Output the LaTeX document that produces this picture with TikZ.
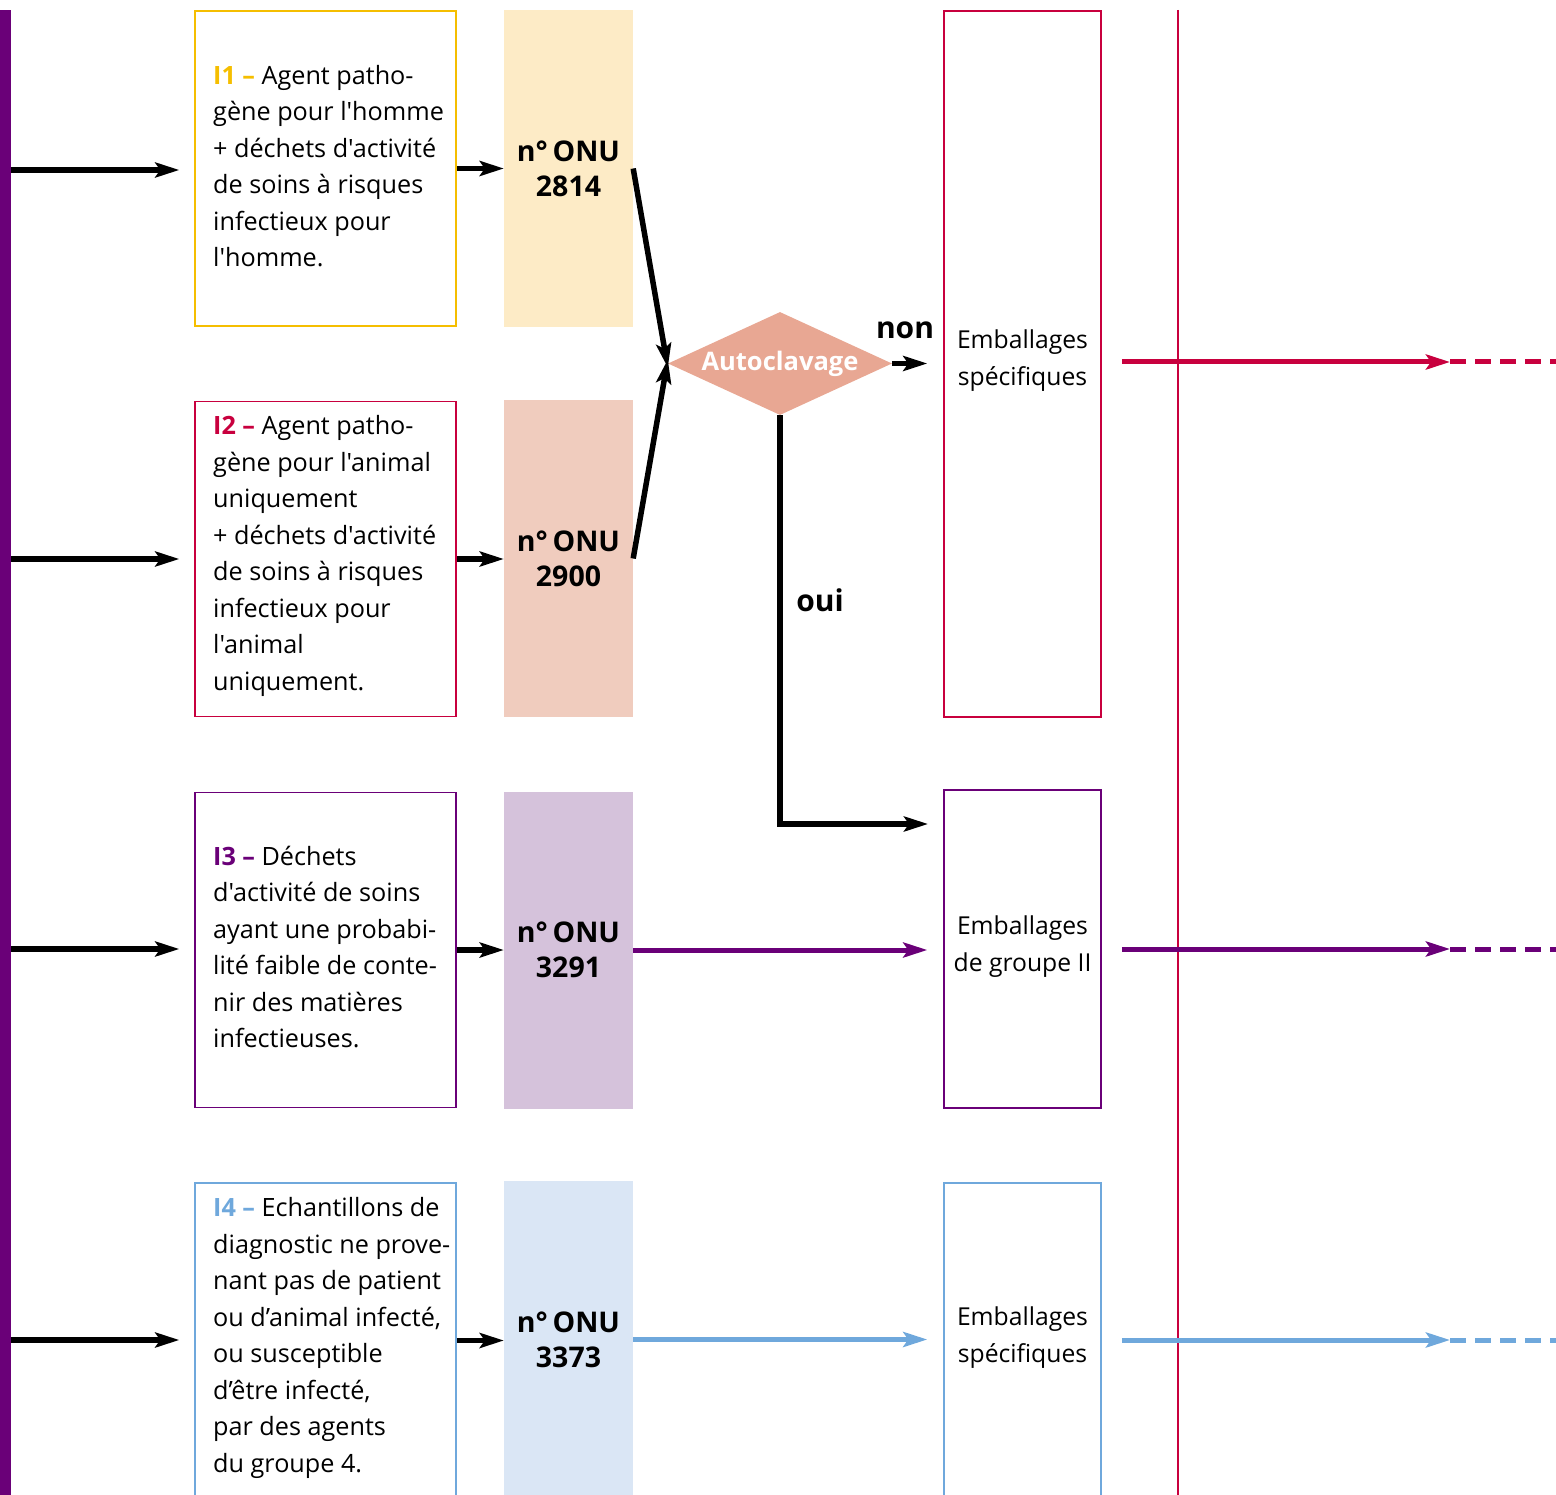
\documentclass[tikz,border=0pt]{standalone}
\usepackage{fontspec}
\setmainfont{Open Sans}[Ligatures=TeXOff]
\usetikzlibrary{arrows.meta,shapes.geometric}
\definecolor{cpurple}{RGB}{106,0,120}
\definecolor{cred}{RGB}{200,0,62}
\definecolor{cyellow}{RGB}{245,190,0}
\definecolor{cblue}{RGB}{111,168,220}
\definecolor{fy}{RGB}{253,235,198}
\definecolor{fp}{RGB}{240,204,190}
\definecolor{fl}{RGB}{213,194,219}
\definecolor{fb}{RGB}{218,230,245}
\definecolor{cdia}{RGB}{232,167,147}
\begin{document}
\begin{tikzpicture}[x=1pt,y=-1pt,
  ibox/.style={rectangle,line width=1.5pt,minimum width=261pt,minimum height=315pt,inner sep=0pt},
  ebox/.style={rectangle,line width=1.5pt,minimum width=157pt,inner sep=0pt},
  itext/.style={align=left,inner sep=0pt,font=\fontsize{25.2}{36.5}\selectfont},
  etext/.style={align=center,inner sep=0pt,font=\fontsize{24.7}{37}\selectfont},
  onu/.style={rectangle,minimum width=129pt,minimum height=317pt,inner sep=0pt,align=center,font=\bfseries\fontsize{28.5}{35}\selectfont},
  arr/.style={line width=5.5pt,-{Stealth[length=24pt,width=15pt,inset=5pt]}},
  carr/.style={line width=5pt,-{Stealth[length=24pt,width=15pt,inset=5pt]}},
  dashend/.style={line width=5pt,dash pattern=on 16pt off 9pt},
  lbl/.style={inner sep=0pt,font=\bfseries\fontsize{30}{36}\selectfont}]
\useasboundingbox (0,0) rectangle (1556,1495);
\clip (0,0) rectangle (1556,1495);

% left bar
\fill[cpurple] (0,10) rectangle (11,1500);
% vertical red line
\draw[cred,line width=2.5pt] (1178,10) -- (1178,1500);

% input boxes
\node[ibox,draw=cyellow] (b1) at (325.5,168.5) {};
\node[ibox,draw=cred] (b2) at (325.5,559) {};
\node[ibox,draw=cpurple] (b3) at (325.5,950) {};
\node[ibox,draw=cblue] (b4) at (325.5,1340.5) {};

\node[itext,anchor=west] (t1) at (213,166) {\textcolor{cyellow}{\textbf{I1 –}} Agent patho-\\gène pour l'homme\\+ déchets d'activité\\de soins à risques\\infectieux pour\\l'homme.};
\node[itext,anchor=west] (t2) at (213,556) {\textcolor{cred}{\textbf{I2 –}} Agent patho-\\gène pour l'animal\\uniquement\\+ déchets d'activité\\de soins à risques\\infectieux pour\\l'animal\\uniquement.};
\node[itext,anchor=west] (t3) at (213,947) {\textcolor{cpurple}{\textbf{I3 –}} Déchets\\d'activité de soins\\ayant une probabi-\\lité faible de conte-\\nir des matières\\infectieuses.};
\node[itext,anchor=west] (t4) at (213,1338) {\textcolor{cblue}{\textbf{I4 –}} Echantillons de\\diagnostic ne prove-\\nant pas de patient\\ou d’animal infecté,\\ou susceptible\\d’être infecté,\\par des agents\\du groupe 4.};

% ONU rects
\node[onu,fill=fy] (o1) at (568.5,168.5) {n°\,ONU\\2814};
\node[onu,fill=fp] (o2) at (568.5,558.5) {n°\,ONU\\2900};
\node[onu,fill=fl] (o3) at (568.5,950) {n°\,ONU\\3291};
\node[onu,fill=fb] (o4) at (568.5,1339.5) {n°\,ONU\\3373};

% diamond
\node[diamond,fill=cdia,aspect=2.2,minimum width=224pt,minimum height=103pt,inner sep=0pt,text=white,font=\bfseries\fontsize{25.5}{30}\selectfont] (dia) at (780,363.5) {Autoclavage};

% output boxes
\node[ebox,draw=cred,minimum height=706pt] (e1) at (1022.5,364) {};
\node[ebox,draw=cpurple,minimum height=318pt] (e2) at (1022.5,949) {};
\node[ebox,draw=cblue,minimum height=315pt] (e3) at (1022.5,1340.5) {};
\node[etext] (et1) at (1022.5,361) {Emballages\\spécifiques};
\node[etext] (et2) at (1022.5,947) {Emballages\\de groupe II};
\node[etext] (et3) at (1022.5,1338) {Emballages\\spécifiques};

% labels
\node[lbl] (non) at (905,330) {non};
\node[lbl] (oui) at (820,600) {oui};

% left arrows
\coordinate (a1) at (11,170);
\coordinate (a2) at (11,559);
\coordinate (a3) at (11,949);
\coordinate (a4) at (11,1340);
\draw[arr,shorten >=15pt] (a1) -- (a1 -| b1.west);
\draw[arr,shorten >=15pt] (a2) -- (a2 -| b2.west);
\draw[arr,shorten >=15pt] (a3) -- (a3 -| b3.west);
\draw[arr,shorten >=15pt] (a4) -- (a4 -| b4.west);

% box to ONU
\draw[arr] (b1.east) -- (b1.east -| o1.west);
\draw[arr] (b2.east) -- (b2.east -| o2.west);
\draw[arr] (b3.east) -- (b3.east -| o3.west);
\draw[arr] (b4.east) -- (b4.east -| o4.west);

% into diamond
\draw[arr] (o1.east) -- ([yshift=-4pt]dia.west);
\draw[arr] (o2.east) -- ([yshift=4pt]dia.west);

% non / oui
\draw[arr,shorten >=16pt] (dia.east) -- (dia.east -| e1.west);
\coordinate (ouiend) at (928,824);
\draw[arr] (dia.south) |- (ouiend);

% coloured arrows
\draw[carr,cpurple,shorten >=16pt] (o3.east) -- (o3.east -| e2.west);
\draw[carr,cblue,shorten >=16pt] (o4.east) -- (o4.east -| e3.west);

% right arrows
\coordinate (r1) at (1450,362);
\coordinate (r1e) at (1560,362);
\coordinate (r2) at (1450,949);
\coordinate (r2e) at (1560,949);
\coordinate (r3) at (1450,1340);
\coordinate (r3e) at (1560,1340);
\draw[carr,cred,shorten <=20pt] (e1.east |- r1) -- (r1);
\draw[dashend,cred] (r1) -- (r1e);
\draw[carr,cpurple,shorten <=20pt] (e2.east |- r2) -- (r2);
\draw[dashend,cpurple] (r2) -- (r2e);
\draw[carr,cblue,shorten <=20pt] (e3.east |- r3) -- (r3);
\draw[dashend,cblue] (r3) -- (r3e);
\end{tikzpicture}
\end{document}
